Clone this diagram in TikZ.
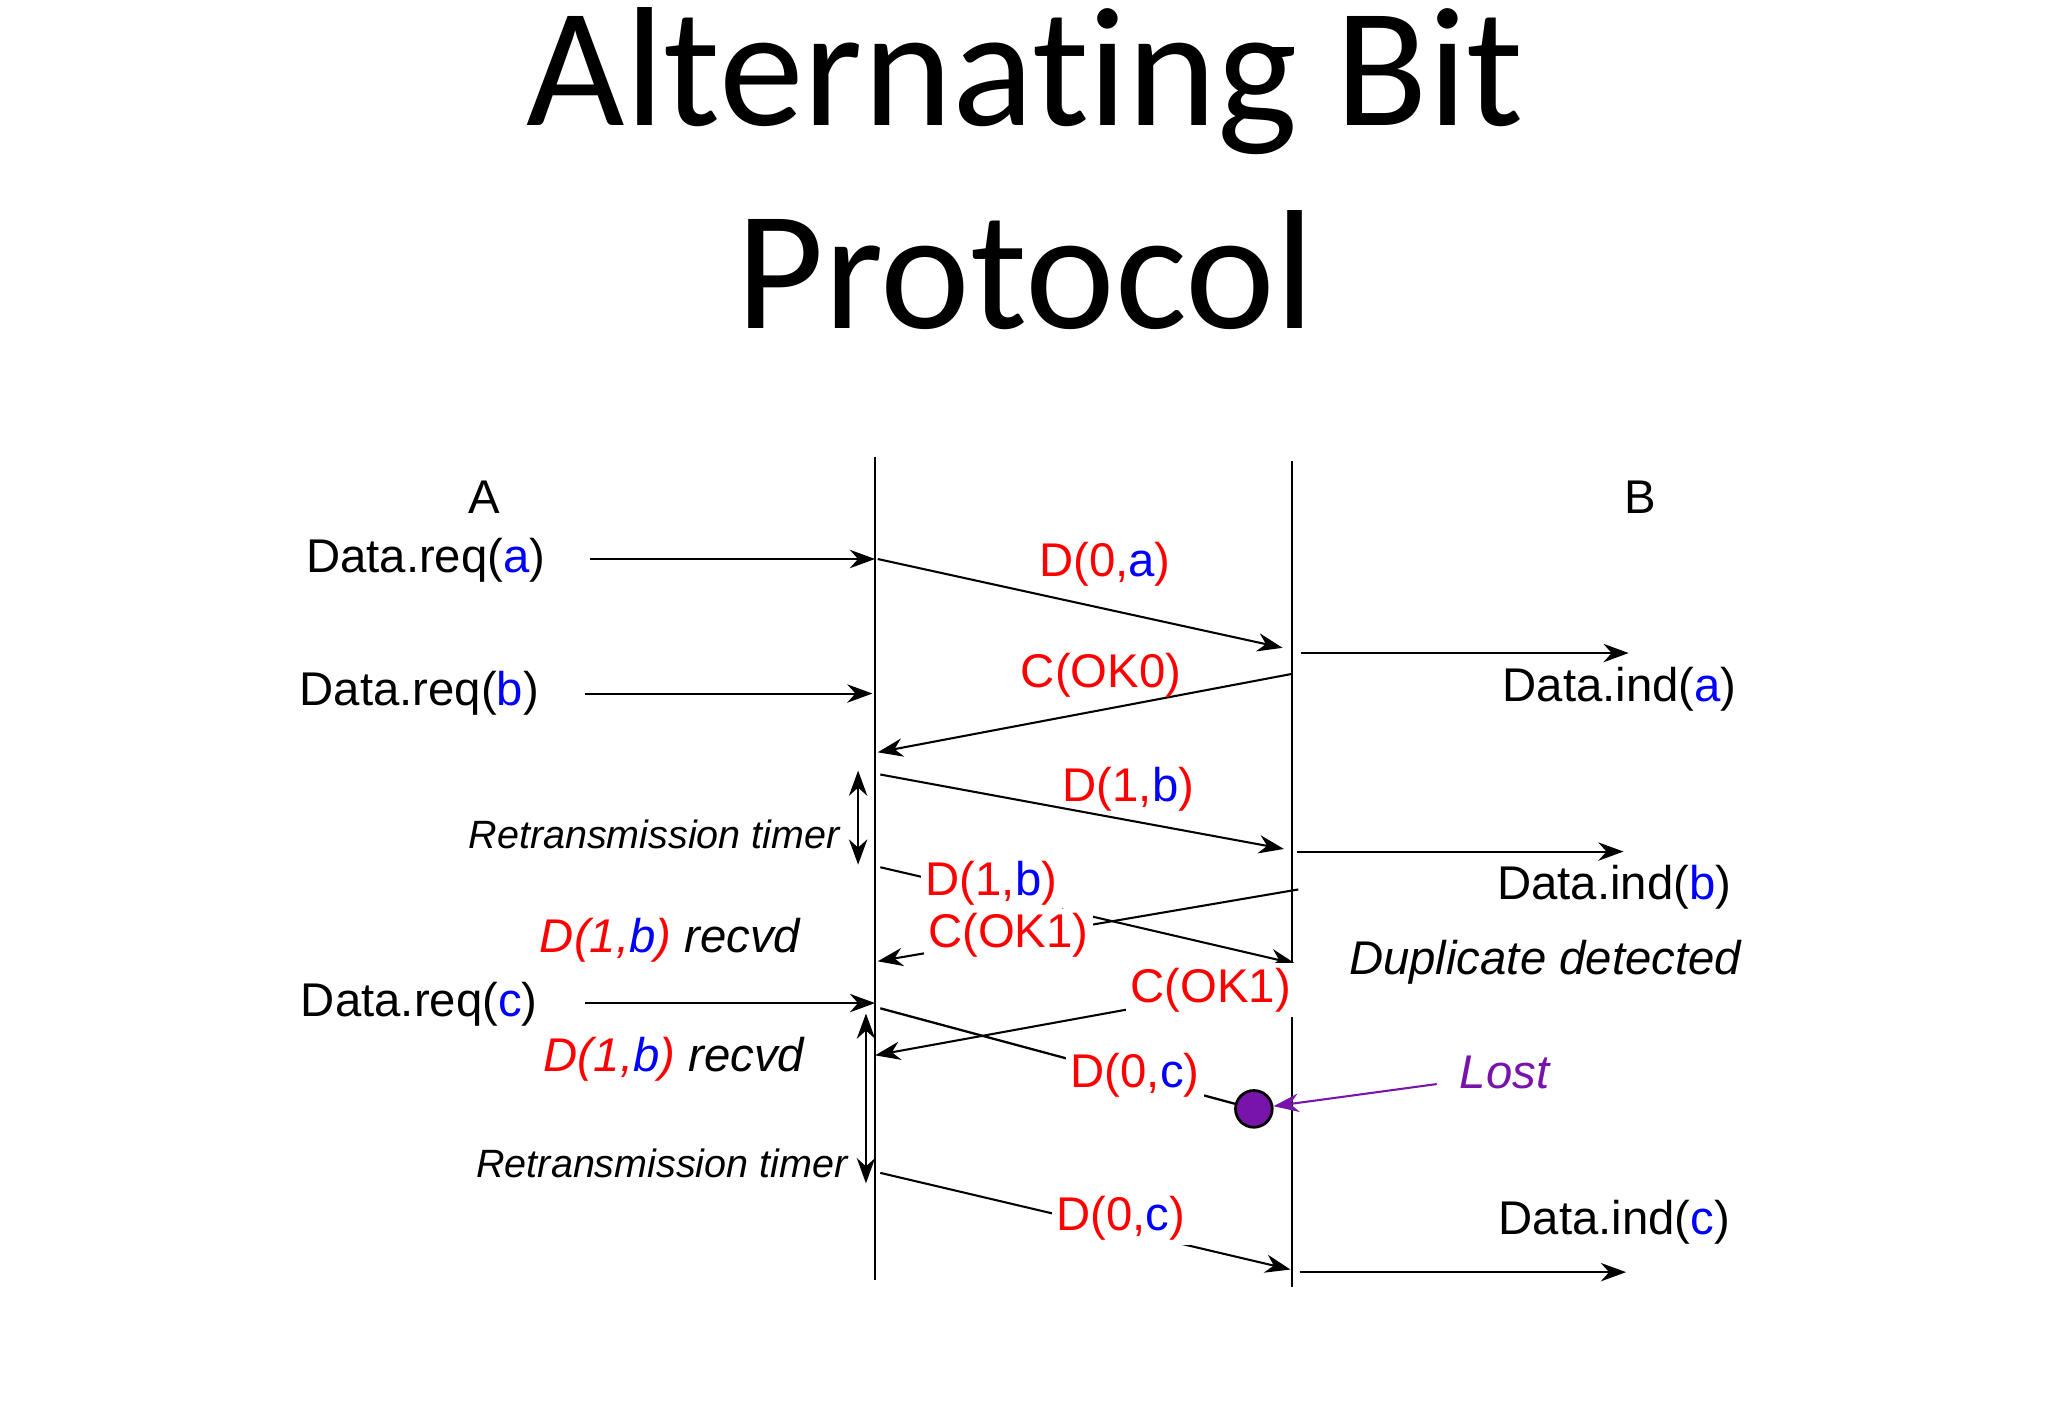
\documentclass[tikz,border=0pt]{standalone}
\usepackage{fontspec}
\setmainfont{Liberation Sans}
\newfontfamily\titlefont[Ligatures=NoCommon]{Carlito}
\usetikzlibrary{arrows.meta}
\definecolor{lost}{RGB}{120,20,170}
\begin{document}
\begin{tikzpicture}[x=0.01cm,y=-0.01cm,
 txt/.style={font=\fontsize{10.3pt}{12pt}\selectfont,inner sep=1pt},
 iti/.style={font=\fontsize{10.3pt}{12pt}\selectfont\itshape,inner sep=1pt},
 it/.style={font=\fontsize{8.6pt}{10pt}\selectfont\itshape,inner sep=1pt},
 lbl/.style={txt,fill=white,text=red},
 ar/.style={-{Stealth[length=5.5pt,width=4pt]},line width=0.45pt},
 dar/.style={{Stealth[length=5.5pt,width=4pt]}-{Stealth[length=5.5pt,width=4pt]},line width=0.45pt},
 ln/.style={line width=0.5pt}]
\useasboundingbox (0,0) rectangle (1568,1086);
\node[font=\fontsize{37pt}{40pt}\titlefont] (t1) at (785,62) {Alternating Bit};
\node[font=\fontsize{37pt}{40pt}\titlefont] (t2) at (785,207) {Protocol};
\coordinate (At) at (670,350); \coordinate (Ab) at (670,980);
\coordinate (Bt) at (989,353); \coordinate (Bb) at (989,985);
\draw[ln] (At) -- (Ab); \draw[ln] (Bt) -- (Bb);
\node[txt] (A) at (371,381) {A};
\node[txt] (B) at (1256,381) {B};
\node[txt] (ra) at (326,429) {Data.req(\textcolor{blue}{a})};
\coordinate (ra1) at (452,428); \coordinate (ra2) at (670,428);
\draw[ar] (ra1) -- (ra2);
\node[txt] (rb) at (321,531) {Data.req(\textcolor{blue}{b})};
\coordinate (rb1) at (448,531); \coordinate (rb2) at (668,531);
\draw[ar] (rb1) -- (rb2);
\node[txt] (rc) at (321,769) {Data.req(\textcolor{blue}{c})};
\coordinate (rc1) at (448,768); \coordinate (rc2) at (670,768);
\draw[ar] (rc1) -- (rc2);
\coordinate (d0a1) at (672,428); \coordinate (d0a2) at (982,496);
\draw[ar] (d0a1) -- (d0a2);
\node[txt,text=red] (ld0a) at (846,432) {D(0,\textcolor{blue}{a})};
\coordinate (ia1) at (996,500); \coordinate (ia2) at (1247,500);
\draw[ar] (ia1) -- (ia2);
\node[txt] (ia) at (1240,528) {Data.ind(\textcolor{blue}{a})};
\coordinate (c01) at (989,516); \coordinate (c02) at (672,576);
\draw[ar] (c01) -- (c02);
\node[txt,text=red] (lc0) at (843,517) {C(OK0)};
\coordinate (d1b1) at (674,593); \coordinate (d1b2) at (983,650);
\draw[ar] (d1b1) -- (d1b2);
\node[txt,text=red] (ld1b) at (864,604) {D(1,\textcolor{blue}{b})};
\coordinate (ib1) at (993,652); \coordinate (ib2) at (1243,652);
\draw[ar] (ib1) -- (ib2);
\node[txt] (ib) at (1236,679) {Data.ind(\textcolor{blue}{b})};
\coordinate (t11) at (657,590); \coordinate (t12) at (657,662);
\draw[dar] (t11) -- (t12);
\node[it,anchor=east] (rt1) at (647,639) {Retransmission timer};
\coordinate (dd1) at (674,664); \coordinate (dd2) at (992,738);
\draw[ar] (dd1) -- (dd2);
\node[lbl] (ldd) at (759,676) {D(1,\textcolor{blue}{b})};
\coordinate (c11) at (994,681); \coordinate (c12) at (672,736);
\draw[ar] (c11) -- (c12);
\node[lbl] (lc1) at (772,716) {C(OK1)};
\node[iti] (rv1) at (513,720) {\textcolor{red}{D(1,\textcolor{blue}{b})} recvd};
\node[iti] (dup) at (1183,737) {Duplicate detected};
\coordinate (c21) at (989,750); \coordinate (c22) at (670,808);
\draw[ar] (c21) -- (c22);
\node[lbl] (lc2) at (927,758) {C(OK1)};
\node[iti] (rv2) at (516,811) {\textcolor{red}{D(1,\textcolor{blue}{b})} recvd};
\node[circle,draw=black,fill=lost,minimum size=8pt,inner sep=0pt,line width=0.6pt] (lost) at (960,849) {};
\coordinate (d0c1) at (674,772);
\draw[ln] (d0c1) -- (lost);
\node[lbl] (ld0c) at (869,823) {D(0,\textcolor{blue}{c})};
\coordinate (lo1) at (1100,830);
\draw[ar,draw=lost] (lo1) -- (lost);
\node[iti,text=lost] (lol) at (1152,821) {Lost};
\coordinate (t21) at (663,776); \coordinate (t22) at (663,906);
\draw[dar] (t21) -- (t22);
\node[it,anchor=east] (rt2) at (653,891) {Retransmission timer};
\coordinate (dc1) at (674,898); \coordinate (dc2) at (988,972);
\draw[ar] (dc1) -- (dc2);
\node[lbl] (ldc) at (858,933) {D(0,\textcolor{blue}{c})};
\coordinate (ic1) at (995,974); \coordinate (ic2) at (1245,974);
\draw[ar] (ic1) -- (ic2);
\node[txt] (ic) at (1236,936) {Data.ind(\textcolor{blue}{c})};
\end{tikzpicture}
\end{document}
